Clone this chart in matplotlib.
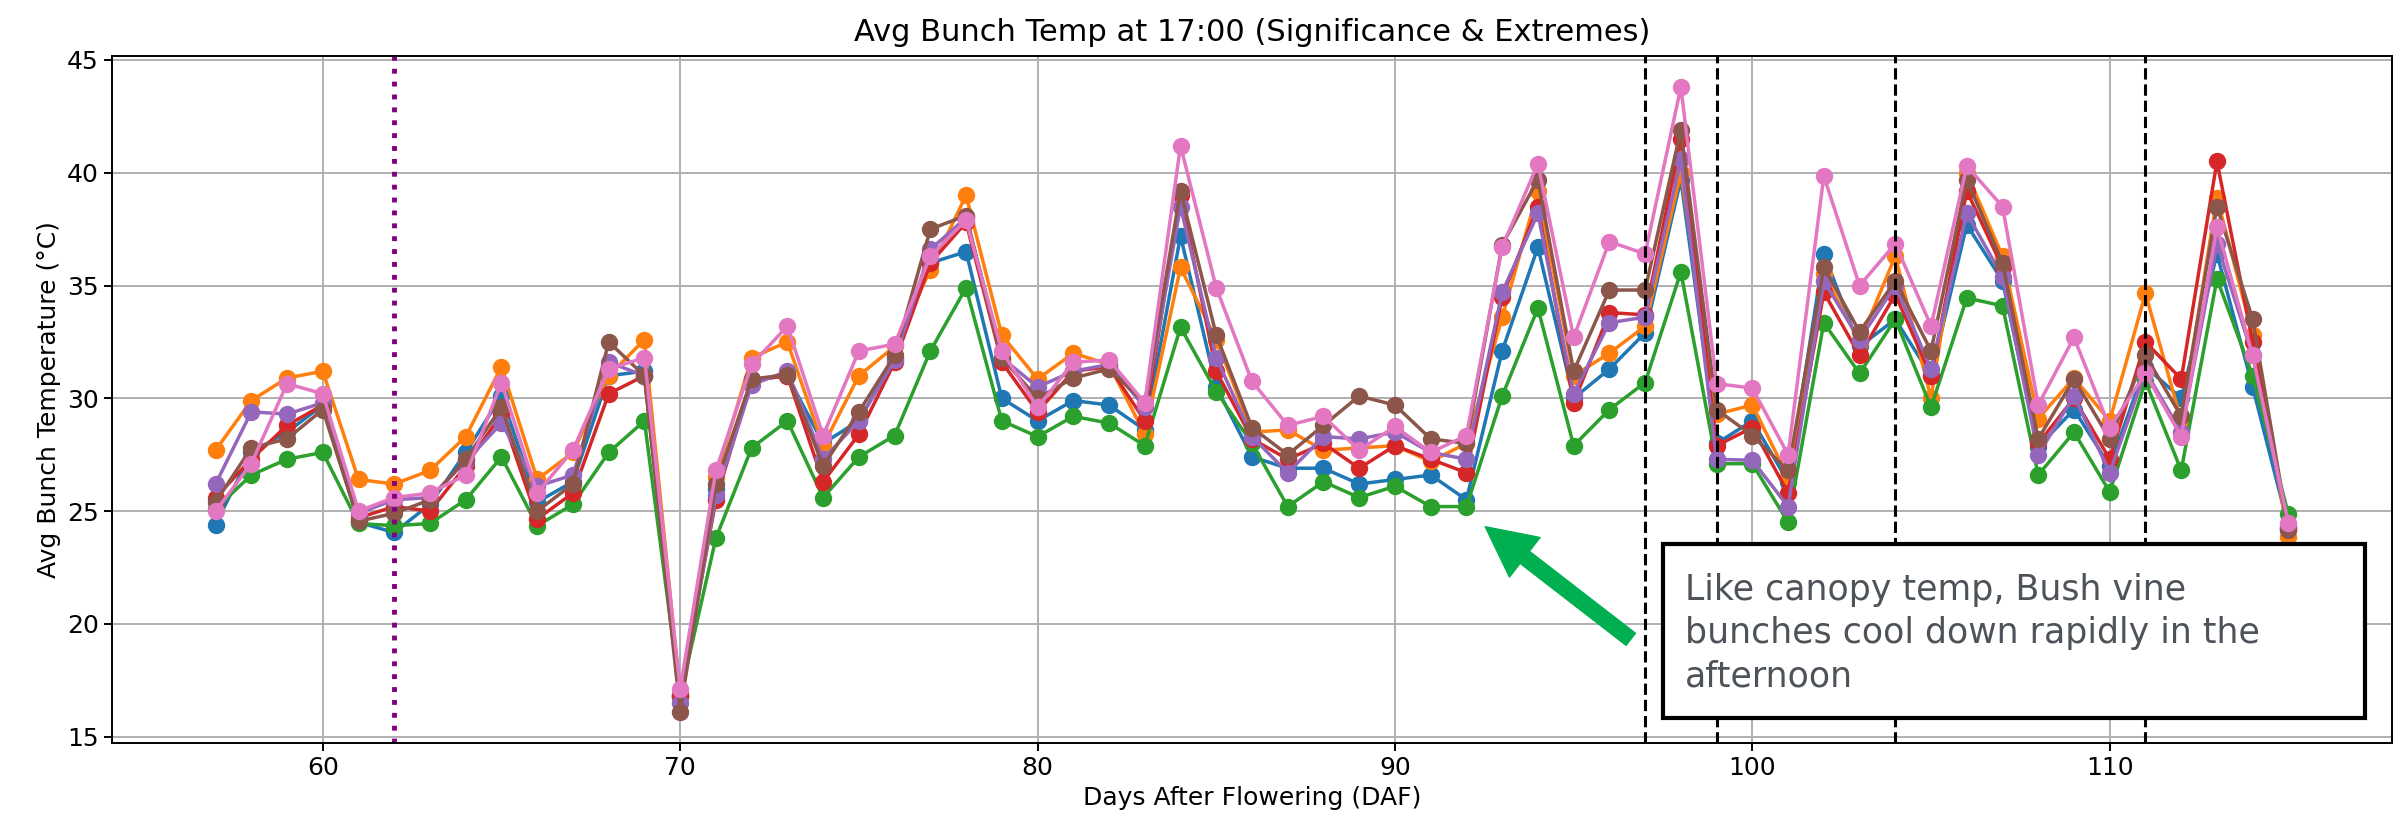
import matplotlib
matplotlib.use("Agg")
import matplotlib.pyplot as plt
from matplotlib.patches import Rectangle

# Days after flowering
days = list(range(57, 116))

# Avg bunch temp at 17:00 per treatment
blue = [24.4, 27.6, 28.5, 29.7, 24.5, 24.05, 25.3, 27.6, 30.1, 25.4,
        26.3, 31.0, 31.2, 16.8, 26.0, 30.8, 31.0, 28.0, 29.0, 31.8,
        36.0, 36.5, 30.0, 29.0, 29.9, 29.7, 28.6, 37.2, 30.5, 27.4,
        26.9, 26.9, 26.2, 26.4, 26.6, 25.5, 32.1, 36.7, 30.0, 31.3,
        32.9, 39.7, 28.0, 29.0, 26.3, 36.4, 32.3, 33.5, 31.0, 37.7,
        35.2, 27.85, 29.5, 27.0, 31.4, 30.0, 36.4, 30.5, 24.3]
orange = [27.7, 29.9, 30.9, 31.2, 26.4, 26.2, 26.8, 28.3, 31.4, 26.4,
          27.6, 31.0, 32.6, 16.9, 26.5, 31.8, 32.5, 27.9, 31.0, 32.3,
          35.7, 39.0, 32.8, 30.85, 32.0, 31.5, 28.4, 35.8, 32.6, 28.5,
          28.6, 27.7, 27.8, 27.9, 27.2, 28.0, 33.6, 39.2, 31.0, 32.0,
          33.2, 40.0, 29.3, 29.7, 26.5, 35.5, 32.5, 36.3, 30.0, 40.0,
          36.3, 29.1, 30.9, 29.0, 34.65, 29.0, 38.9, 32.8, 23.85]
green = [25.1, 26.6, 27.3, 27.6, 24.45, 24.35, 24.45, 25.5, 27.4, 24.35,
         25.3, 27.6, 29.0, 16.8, 23.8, 27.8, 29.0, 25.6, 27.4, 28.35,
         32.1, 34.9, 29.0, 28.3, 29.2, 28.9, 27.9, 33.15, 30.3, 28.0,
         25.2, 26.3, 25.6, 26.1, 25.2, 25.2, 30.1, 34.0, 27.9, 29.5,
         30.7, 35.6, 27.1, 27.1, 24.5, 33.35, 31.1, 33.5, 29.6, 34.45,
         34.1, 26.6, 28.5, 25.85, 30.75, 26.8, 35.3, 31.0, 24.85]
red = [25.6, 27.3, 28.8, 29.7, 24.7, 25.2, 25.0, 27.0, 29.3, 24.65,
       25.8, 30.2, 31.0, 16.8, 25.5, 30.8, 31.0, 26.3, 28.4, 31.6,
       36.0, 37.8, 31.6, 29.4, 31.2, 31.4, 29.0, 39.0, 31.2, 28.2,
       27.3, 28.0, 26.9, 27.9, 27.3, 26.7, 34.5, 38.5, 29.8, 33.8,
       33.7, 41.5, 27.9, 28.7, 25.8, 34.7, 31.9, 34.6, 31.0, 39.2,
       35.8, 28.0, 30.0, 27.3, 32.5, 30.85, 40.5, 32.5, 24.2]
purple = [26.2, 29.4, 29.3, 29.8, 24.9, 25.5, 25.6, 27.2, 28.9, 26.1,
          26.6, 31.6, 31.0, 16.5, 25.7, 30.6, 31.2, 27.3, 29.0, 31.7,
          36.6, 38.0, 31.8, 30.5, 31.2, 31.5, 29.6, 38.5, 31.8, 28.3,
          26.7, 28.3, 28.2, 28.5, 27.6, 27.3, 34.7, 38.2, 30.2, 33.35,
          33.6, 40.6, 27.3, 27.25, 25.2, 35.2, 32.6, 35.0, 31.3, 38.2,
          35.4, 27.5, 30.1, 26.7, 31.2, 28.5, 36.85, 31.9, 24.3]
brown = [25.4, 27.8, 28.2, 29.5, 24.55, 24.9, 25.5, 27.3, 29.6, 25.0,
         26.2, 32.5, 31.0, 16.1, 26.2, 30.85, 31.05, 27.0, 29.4, 31.9,
         37.5, 38.1, 31.8, 30.0, 30.9, 31.3, 29.8, 39.2, 32.8, 28.7,
         27.5, 28.8, 30.1, 29.7, 28.2, 28.0, 36.8, 39.7, 31.2, 34.8,
         34.8, 41.9, 29.5, 28.35, 26.8, 35.8, 32.95, 35.2, 32.1, 39.7,
         36.0, 28.2, 30.85, 28.2, 31.9, 29.2, 38.5, 33.5, 24.15]
pink = [25.0, 27.1, 30.65, 30.2, 25.0, 25.6, 25.8, 26.6, 30.7, 25.8,
        27.7, 31.3, 31.8, 17.1, 26.8, 31.5, 33.2, 28.35, 32.1, 32.4,
        36.3, 37.9, 32.1, 29.6, 31.6, 31.7, 29.8, 41.2, 34.9, 30.75,
        28.8, 29.2, 27.7, 28.75, 27.6, 28.35, 36.7, 40.4, 32.7, 36.95,
        36.4, 43.8, 30.65, 30.45, 27.5, 39.85, 35.0, 36.85, 33.2, 40.3,
        38.5, 29.7, 32.7, 28.7, 31.1, 28.3, 37.6, 31.9, 24.45]

series = [blue, orange, green, red, purple, brown, pink]

# marked days
extreme_days = [97, 99, 104, 111]
sig_day = 62

note = "Like canopy temp, Bush vine\nbunches cool down rapidly in the\nafternoon"

fig = plt.figure(figsize=(24.07, 8.33), dpi=100)
ax = fig.add_axes([0.0465, 0.108, 0.9473, 0.825])

for i, s in enumerate(series):
    ax.plot(days, s, marker='o', markersize=11.5, linewidth=2.5, color='C%d' % i)

for d in extreme_days:
    ax.axvline(d, color='black', linestyle='--', linewidth=2.2)
ax.axvline(sig_day, color='purple', linestyle=':', linewidth=3.5)

ax.grid(True, color='#b0b0b0', linewidth=1.4)
ax.set_axisbelow(True)
for sp in ax.spines.values():
    sp.set_linewidth(1.4)
ax.tick_params(labelsize=18, width=1.4, length=6)

ax.set_title("Avg Bunch Temp at 17:00 (Significance & Extremes)", fontsize=22, pad=11)
ax.set_xlabel("Days After Flowering (DAF)", fontsize=18)
ax.set_ylabel("Avg Bunch Temperature (°C)", fontsize=18)

# callout box and arrow (figure coords)
box = Rectangle((0.6909, 0.138), 0.2917, 0.209, transform=fig.transFigure,
                facecolor='white', edgecolor='black', linewidth=3, zorder=10)
fig.add_artist(box)
fig.text(0.700, 0.240, note, fontsize=25, color='#4d5359', va='center',
         ha='left', linespacing=1.35, zorder=11)

ax.annotate('', xy=(1483, 308), xycoords='figure pixels',
            xytext=(1633, 192), textcoords='figure pixels',
            arrowprops=dict(arrowstyle='simple,head_length=3.6,head_width=3.6,tail_width=1.1',
                            color='#00b050', mutation_scale=10),
            zorder=12)

fig.savefig("out.png", dpi=100)
